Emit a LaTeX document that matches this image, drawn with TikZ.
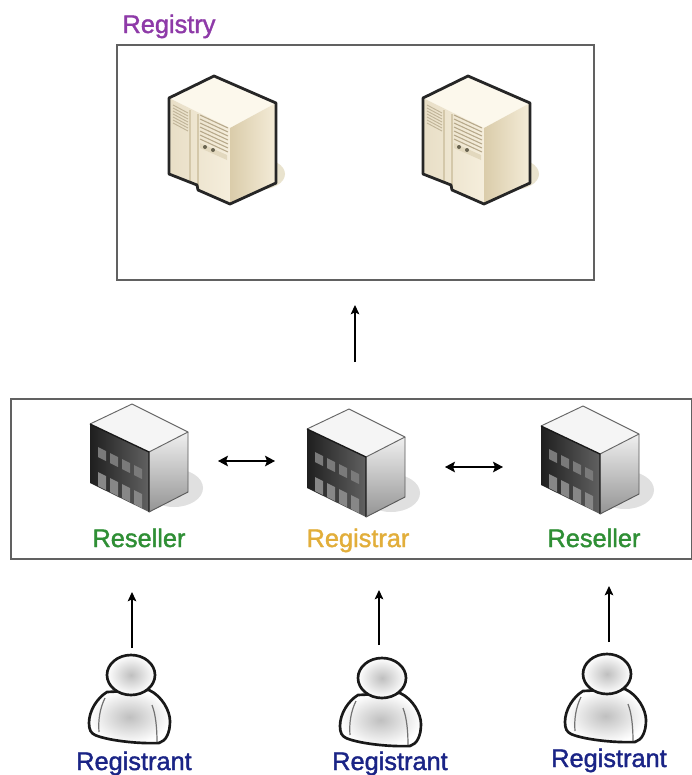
\documentclass[tikz,border=0pt]{standalone}
\usepackage{fontspec}
\setmainfont{Liberation Sans}
\usetikzlibrary{arrows.meta}
\definecolor{regpurple}{HTML}{8E3AA8}
\definecolor{resgreen}{HTML}{2F8F35}
\definecolor{rarorange}{HTML}{E2AE3A}
\definecolor{rantblue}{HTML}{1A2486}
\tikzset{
  panel/.style={draw=black!62,line width=1.3pt,fill=white,inner sep=0pt,anchor=north west},
  lbl/.style={font=\fontsize{19}{22}\selectfont\addfontfeature{FakeBold=1.5},inner sep=0pt,anchor=base},
  link/.style={line width=0.9pt,-{Stealth[length=7pt,width=6.5pt,inset=1.5pt]}},
  duallink/.style={line width=0.9pt,{Stealth[length=7.5pt,width=8pt,inset=1.5pt]}-{Stealth[length=7.5pt,width=8pt,inset=1.5pt]}},
  pics/server/.style={code={
    \fill[color={rgb,255:red,226;green,218;blue,190},opacity=.75] (44,98) ellipse (27 and 16);
    \fill[color={rgb,255:red,252;green,248;blue,236}] (0,0) -- (-45,22) -- (16,52) -- (62,27) -- cycle;
    \shade[left color={rgb,255:red,232;green,222;blue,198},right color={rgb,255:red,245;green,238;blue,220}]
      (-45,22) -- (16,52) -- (16,128) -- (-16,114) -- (-17,109) -- (-45,98) -- cycle;
    \shade[left color={rgb,255:red,218;green,204;blue,170},right color={rgb,255:red,244;green,236;blue,216}]
      (16,52) -- (62,27) -- (62,107) -- (16,128) -- cycle;
    \draw[color={rgb,255:red,212;green,200;blue,170},line width=1pt] (-24,34) -- (-24,105) (-16,38) -- (-16,112);
    \foreach \d in {0,3,...,18}
      \draw[color={rgb,255:red,192;green,180;blue,152},line width=.7pt] (-41,29+\d) -- (-26,37+\d);
    \foreach \d in {0,4,...,24}
      \draw[color={rgb,255:red,182;green,168;blue,138},line width=.8pt] (-14,39+\d) -- (14,52+\d);
    \fill[color={rgb,255:red,226;green,216;blue,190}] (-14,67) -- (13,79) -- (13,84) -- (-14,72) -- cycle;
    \fill[color={rgb,255:red,105;green,100;blue,80}] (-9,71) circle (2) (-1,74) circle (2);
    \draw[line width=2.1pt,line join=round,color=black!85]
      (0,0) -- (-45,22) -- (-45,98) -- (-17,109) -- (-16,114) -- (16,128) -- (62,107) -- (62,27) -- cycle;
  }},
  pics/building/.style={code={
    \fill[color=black!12] (42,84) ellipse (29 and 19);
    \fill[color=black!4] (0,0) -- (-42,20) -- (17,48) -- (56,28) -- cycle;
    \shade[left color=black!88,right color=black!62] (-42,20) -- (17,48) -- (17,108) -- (-42,79) -- cycle;
    \shade[top color=black!6,bottom color=black!42] (17,48) -- (56,28) -- (56,88) -- (17,108) -- cycle;
    \foreach \i in {0,1,2,3} {
      \fill[color=black!52] (-34+12*\i,43+6*\i) -- ++(8,4) -- ++(0,10) -- ++(-8,-4) -- cycle;
      \fill[color=black!47] (-34+12*\i,68+6*\i) -- ++(8,4) -- ++(0,14) -- ++(-8,-4) -- cycle;
    }
    \draw[color=black!60,line width=.7pt,line join=round] (-42,20) -- (0,0) -- (56,28) -- (17,48);
    \draw[color=black!90,line width=1pt] (-42,20) -- (17,48) -- (17,108);
    \draw[color=black!65,line width=.7pt] (56,28) -- (56,88) -- (17,108);
  }},
  pics/person/.style={code={
    \shade[inner color=black!25,outer color=white,line width=2pt,draw=black!90,line join=round]
      (-24,17) .. controls (-34,23) and (-42,36) .. (-42,48)
      .. controls (-42,55) and (-40,58) .. (-36,60)
      .. controls (-25,65) and (5,69) .. (28,68)
      .. controls (35,66) and (39,58) .. (39,46)
      .. controls (39,36) and (31,21) .. (18,15)
      -- cycle;
    \draw[color=black!55,line width=.9pt] (-26,23) .. controls (-31,33) and (-33,45) .. (-32,57);
    \draw[color=black!55,line width=.9pt] (21,30) .. controls (25,40) and (26,55) .. (26,67);
    \shade[inner color=black!25,outer color=white,draw=black!90,line width=2pt] (0,0) ellipse (24 and 20);
  }}
}
\begin{document}
\begin{tikzpicture}[x=0.75pt,y=-0.75pt]
\useasboundingbox (0,0) rectangle (692,775);
\fill[white] (0,0) rectangle (692,775);
\node[panel,minimum width=357.75pt,minimum height=176.25pt] (registrybox) at (116,44) {};
\node[panel,minimum width=510.75pt,minimum height=120pt] (middlebox) at (10,398) {};
\node[lbl,text=regpurple] (registry) at (169,33) {Registry};
\pic at (214,76) {server};
\pic at (468,76) {server};
\pic at (132,404) {building};
\pic at (349,409) {building};
\pic at (583,406) {building};
\pic at (131,675) {person};
\pic at (382,678) {person};
\pic at (607,674) {person};
\node[lbl,text=resgreen] (reseller1) at (139,547) {Reseller};
\node[lbl,text=rarorange] (registrar) at (358,547) {Registrar};
\node[lbl,text=resgreen] (reseller2) at (594,547) {Reseller};
\node[lbl,text=rantblue] (registrant1) at (134,770) {Registrant};
\node[lbl,text=rantblue] (registrant2) at (390,770) {Registrant};
\node[lbl,text=rantblue] (registrant3) at (609,767) {Registrant};
\coordinate (a1) at (355,362); \coordinate (a2) at (355,305);
\coordinate (b1) at (218,461); \coordinate (b2) at (275,461);
\coordinate (c1) at (445,467); \coordinate (c2) at (503,467);
\coordinate (d1) at (132,648); \coordinate (d2) at (132,592);
\coordinate (e1) at (379,645); \coordinate (e2) at (379,590);
\coordinate (f1) at (609,642); \coordinate (f2) at (609,586);
\draw[link] (a1) -- (a2);
\draw[duallink] (b1) -- (b2);
\draw[duallink] (c1) -- (c2);
\draw[link] (d1) -- (d2);
\draw[link] (e1) -- (e2);
\draw[link] (f1) -- (f2);
\end{tikzpicture}
\end{document}
